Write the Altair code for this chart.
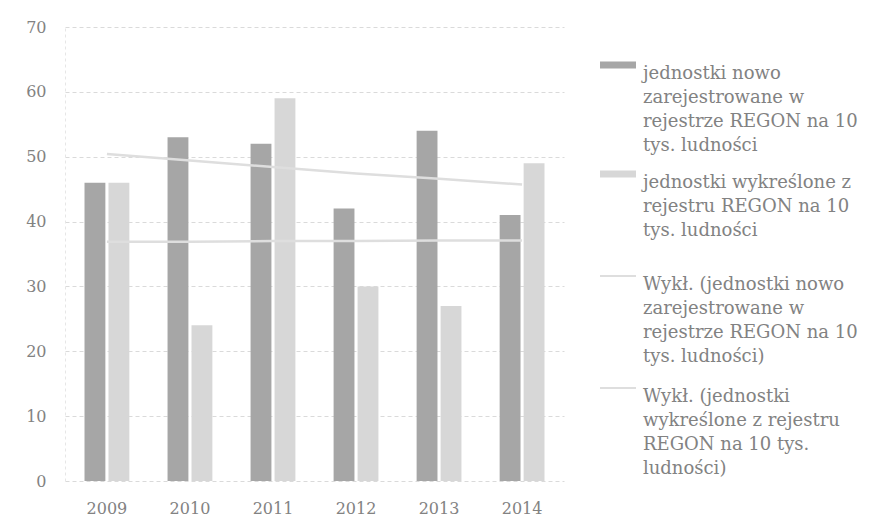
import altair as alt
import pandas as pd

years = ["2009", "2010", "2011", "2012", "2013", "2014"]
new_units = [46, 53, 52, 42, 54, 41]
removed_units = [46, 24, 59, 30, 27, 49]
trend_new = [50.4, 49.4, 48.4, 47.4, 46.6, 45.7]
trend_removed = [36.9, 36.9, 37.0, 37.0, 37.1, 37.1]

s_new = "jednostki nowo\nzarejestrowane w\nrejestrze REGON na 10\ntys. ludności"
s_rem = "jednostki wykreślone z\nrejestru REGON na 10\ntys. ludności"
t_new = "Wykł. (jednostki nowo\nzarejestrowane w\nrejestrze REGON na 10\ntys. ludności)"
t_rem = "Wykł. (jednostki\nwykreślone z rejestru\nREGON na 10 tys.\nludności)"

bar_colors = ["#a6a6a6", "#d7d7d7"]
trend_colors = ["#dedede", "#dedede"]

bars_df = pd.DataFrame(
    {"year": years * 2, "value": new_units + removed_units,
     "series": [s_new] * 6 + [s_rem] * 6}
)
trend_df = pd.DataFrame(
    {"year": years * 2, "value": trend_new + trend_removed,
     "series": [t_new] * 6 + [t_rem] * 6}
)

FONT = "DejaVu Serif"
TXT = "#828282"

x_enc = alt.X(
    "year:N", title=None,
    scale=alt.Scale(paddingInner=0.46, paddingOuter=0.235),
    axis=alt.Axis(labelAngle=0, ticks=False, domain=False, grid=False, labelPadding=19),
)
y_enc = alt.Y(
    "value:Q", title=None,
    scale=alt.Scale(domain=[0, 70], nice=False),
    axis=alt.Axis(values=[0, 10, 20, 30, 40, 50, 60, 70], ticks=False,
                  domain=True, domainColor="#e6e6e6", domainDash=[3, 3],
                  grid=True, gridColor="#dadada", gridDash=[4, 3],
                  labelPadding=19, minExtent=52, maxExtent=52),
)

bars = alt.Chart(bars_df).mark_bar().encode(
    x=x_enc,
    y=y_enc,
    xOffset=alt.XOffset("series:N", scale=alt.Scale(domain=[s_new, s_rem], paddingInner=0.13)),
    color=alt.Color(
        "series:N",
        scale=alt.Scale(domain=[s_new, s_rem], range=bar_colors),
        legend=alt.Legend(
            title=None, orient="none", legendX=534, legendY=19,
            symbolType="M-1,-0.2H1V0.2H-1Z", symbolSize=1296,
            labelExpr="split(datum.label, '\\n')", labelBaseline="top",
            labelOffset=6, rowPadding=-7,
        ),
    ),
)

lines = alt.Chart(trend_df).mark_line(strokeWidth=2.5).encode(
    x=alt.X("year:N"),
    y=alt.Y("value:Q"),
    stroke=alt.Stroke(
        "series:N",
        scale=alt.Scale(domain=[t_new, t_rem], range=trend_colors),
        legend=alt.Legend(
            title=None, orient="none", legendX=534, legendY=230,
            symbolType="stroke", symbolSize=1296, symbolStrokeWidth=2,
            labelExpr="split(datum.label, '\\n')", labelBaseline="top",
            labelOffset=6, rowPadding=3,
        ),
    ),
)

chart = (
    alt.layer(bars, lines)
    .properties(width=499, height=454, padding={"left": 5, "top": 11, "right": 5, "bottom": 5})
    .configure(style={"guide-label": {"lineHeight": 24}})
    .configure_view(stroke=None)
    .configure_axis(labelFont=FONT, labelFontSize=16, labelColor=TXT)
    .configure_legend(labelFont=FONT, labelFontSize=18, labelColor=TXT,
                      labelLimit=500, padding=0)
)

chart.save("out.html", embed_options={"renderer": "svg", "actions": False})
